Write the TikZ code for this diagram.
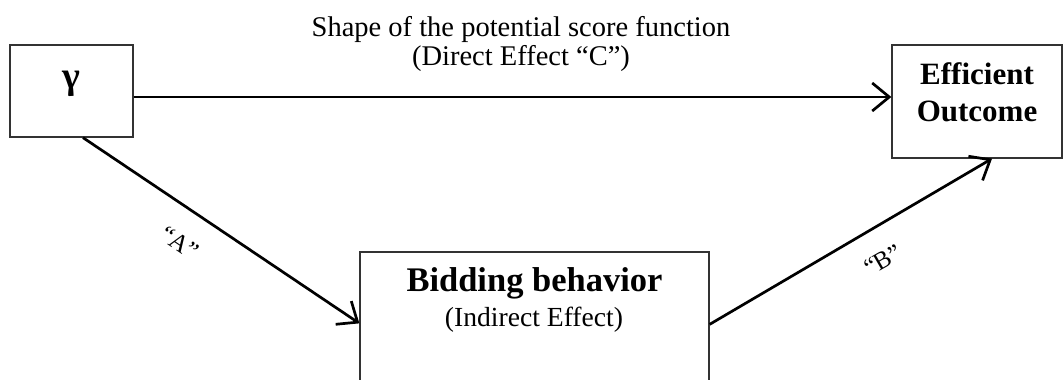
\documentclass[tikz,border=0pt]{standalone}
\usepackage{fontspec}
\setmainfont{Liberation Serif}
\usetikzlibrary{arrows.meta,calc}

\tikzset{
  box/.style={draw=black!80, line width=1.3pt, fill=white, inner sep=0pt},
  arr/.style={line width=2.7pt, -{Straight Barb[length=17pt,width=28pt,line width=2.7pt]}},
  lbl/.style={inner sep=0pt, font=\fontsize{25}{28}\selectfont},
}

\begin{document}
\begin{tikzpicture}[x=1pt, y=-1pt]
  \useasboundingbox (0,0) rectangle (1063,380);
  \clip (0,0) rectangle (1063,380);

  % boxes
  \node[box, minimum width=123pt, minimum height=92pt] (gamma) at (71.5,91) {};
  \node[box, minimum width=170pt, minimum height=113pt] (eff) at (977,101.5) {};
  \node[box, minimum width=349pt, minimum height=176pt] (bid) at (534.5,340) {};

  % box texts
  \node[inner sep=0pt, font=\fontsize{38}{40}\selectfont\bfseries] (gtext) at (71.5,84) {γ};
  \node[inner sep=0pt, align=center, font=\fontsize{31}{37}\selectfont\bfseries] (etext) at (977,92) {Efficient\\Outcome};
  \node[inner sep=0pt, font=\fontsize{34.5}{36}\selectfont\bfseries] (btext) at (534.5,283) {Bidding behavior};
  \node[inner sep=0pt, font=\fontsize{27.6}{30}\selectfont] (bsub) at (534,320) {(Indirect Effect)};

  % connectors
  \draw[arr] ([yshift=-6pt]gamma.east) coordinate (c0) -- (c0 -| eff.west);
  \draw[arr] ([xshift=11.5pt]gamma.south) -- ([yshift=-72pt]bid.north west);
  \draw[arr] ([yshift=-73pt]bid.north east) -- ([xshift=15pt]eff.south);

  % connector labels
  \node[inner sep=0pt, align=center, font=\fontsize{28.5}{29}\selectfont] (ctext) at (521,44)
    {Shape of the potential score function\\(Direct Effect “C”)};
  \node[lbl, rotate=-34] (atext) at (180,243) {“A”};
  \node[lbl, rotate=30] (btag) at (883,260) {“B”};
\end{tikzpicture}
\end{document}
